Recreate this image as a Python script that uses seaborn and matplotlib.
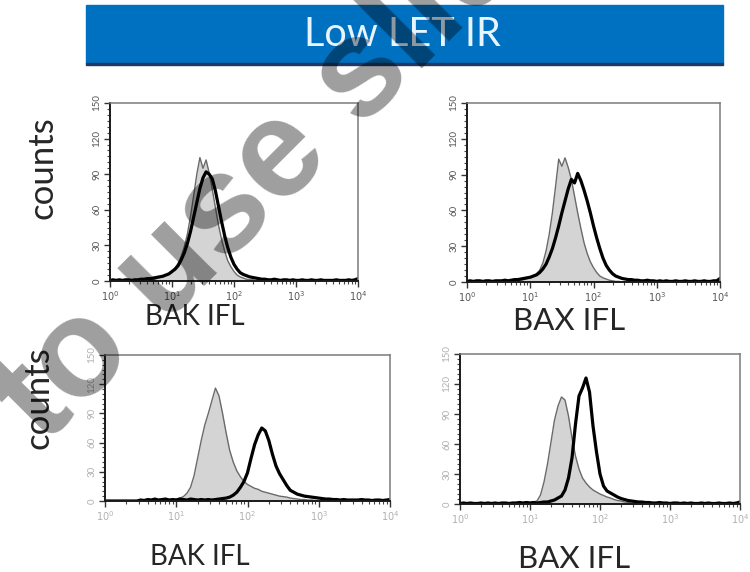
import numpy as np
import matplotlib
matplotlib.use("Agg")
from matplotlib import pyplot as plt
from matplotlib.patches import Rectangle
from matplotlib.ticker import FixedLocator, FixedFormatter, MultipleLocator, LogLocator, NullFormatter
import seaborn as sns

# histogram channels, log10 of fluorescence (0 .. 4 decades)
log_bins = np.round(np.arange(81) * 0.05, 2)

y_ticks = [0, 30, 60, 90, 120, 150]
y_tick_labels = ["0", "30", "60", "90", "120", "150"]
x_ticks = [1, 10, 100, 1000, 10000]
x_tick_labels = ["$10^0$", "$10^1$", "$10^2$", "$10^3$", "$10^4$"]

# top left: BAK, control (grey) and low LET IR (black)
bak_top_ctrl = [0, 0, 0, 0, 0, 0, 0, 0, 0, 0, 0,
                0.5, 1, 1, 1.5, 2, 3, 3.5, 5, 6, 8,
                11, 15, 21, 29, 40, 55, 72, 90, 104, 95,
                102, 91, 77, 62, 47, 35, 25, 17, 12, 8,
                5, 3.5, 2.5, 1.5, 1, 1, 0.5, 0.5, 0, 0,
                0, 0, 0, 0, 0, 0, 0, 0, 0, 0,
                0, 0, 0, 0, 0, 0, 0, 0, 0, 0,
                0, 0, 0, 0, 0, 0, 0, 0, 0, 0]
bak_top_irr = [0.5, 1, 0.5, 1, 0.5, 1, 1, 0.5, 1, 1, 1.5,
               1.5, 2, 2, 2.5, 3, 3.5, 4, 5, 6, 8,
               10, 13, 18, 24, 32, 42, 54, 66, 78, 87,
               92, 90, 86, 76, 63, 50, 38, 28, 20, 14,
               10, 7, 5.5, 4.5, 3.5, 3, 2.5, 2, 1.5, 1.5,
               1, 1, 1.5, 1, 0.5, 1, 1, 0.5, 1, 0.5,
               0.5, 1, 0.5, 0.5, 1, 0.5, 0.5, 1, 0.5, 0.5,
               0.5, 0.5, 1, 0.5, 0.5, 0.5, 1, 0.5, 1, 2]

# top right: BAX
bax_top_ctrl = [0, 0, 0, 0, 0, 0, 0, 0, 0, 0, 0, 0, 0, 0.5, 0.5, 1, 1, 1.5, 2,
                3, 4, 5, 7, 10, 16, 26, 40, 58, 80,
                103, 97, 104, 96, 86, 72, 58, 45, 33, 24,
                17, 12, 8, 5, 3.5, 2.5, 1.5, 1, 0.5, 0.5,
                0, 0, 0, 0, 0, 0, 0, 0, 0, 0, 0, 0, 0, 0, 0, 0,
                0, 0, 0, 0, 0, 0, 0, 0, 0, 0, 0, 0, 0, 0, 0, 0]
bax_top_irr = [0.5, 1, 0.5, 1, 1, 0.5, 1, 1, 0.5, 1, 1,
               1, 1.5, 1, 1.5, 2, 2, 2.5, 3, 3.5, 4,
               5, 6, 8, 11, 15, 21, 28, 37, 47, 58,
               68, 78, 86, 83, 91, 85, 77, 68, 58, 47,
               37, 28, 20, 14, 10, 7, 5, 4, 3, 2.5,
               2, 2, 1.5, 1.5, 1, 1, 1.5, 1, 1, 0.5,
               1, 0.5, 1, 0.5, 0.5, 1, 0.5, 0.5, 1, 0.5,
               0.5, 1, 0.5, 0.5, 1, 0.5, 0.5, 1, 1, 3]

# bottom left: BAK
bak_bot_ctrl = [0, 0, 0, 0, 0, 0, 0, 0, 0, 0, 0, 0, 0,
                0.5, 0.5, 1, 1, 1, 1.5, 1.5, 2,
                3, 4.5, 8, 14, 26, 44, 62, 78, 90, 103,
                116, 108, 90, 70, 52, 40, 31, 25, 20, 17,
                15, 13, 12, 10, 9, 8, 7, 6, 5, 4.5,
                4, 3, 2.5, 2, 1.5, 1.5, 1, 1, 0.5, 0.5,
                0, 0, 0, 0, 0, 0, 0, 0, 0, 0,
                0, 0, 0, 0, 0, 0, 0, 0, 0, 0]
bak_bot_irr = [0, 0, 0, 0, 0, 0, 0, 0, 0, 0,
               1, 0.5, 1.5, 1, 2, 1, 1.5, 2, 1, 1.5,
               1, 2, 1.5, 1, 2, 1.5, 1, 1.5, 1, 1.5,
               1, 1.5, 2, 2.5, 3, 4, 6, 9, 14, 20,
               29, 44, 58, 68, 75, 72, 62, 48, 36, 28,
               22, 16, 11, 9, 7, 6, 5, 4.5, 4, 3.5,
               3, 2.5, 2, 2, 1.5, 1.5, 1, 1.5, 1, 1,
               1, 1, 1.5, 1, 1, 0.5, 1, 1, 0.5, 1, 1.5]

# bottom right: BAX
bax_bot_ctrl = [0, 0, 0, 0, 0, 0, 0, 0, 0, 0, 0, 0, 0, 0,
                0.5, 0.5, 0.5, 1, 1, 1.5,
                1.5, 2, 3, 9, 22, 40, 62, 84, 98, 107,
                104, 88, 66, 48, 35, 26, 21, 17, 14, 12,
                10, 8.5, 7, 6, 4.5, 3.5, 3, 2, 1.5, 1,
                1, 0.5, 0.5, 0.5, 0, 0, 0, 0, 0, 0,
                0, 0, 0, 0, 0, 0, 0, 0, 0, 0,
                0, 0, 0, 0, 0, 0, 0, 0, 0, 0, 0]
bax_bot_irr = [0.5, 1, 0.5, 1, 0.5, 0.5, 1, 0.5, 1, 0.5,
               1, 0.5, 1, 1, 0.5, 1, 1, 1.5, 1, 1.5,
               1, 1.5, 1, 1.5, 2, 2, 3, 4, 6, 8,
               14, 26, 46, 80, 108, 116, 126, 112, 78, 52,
               30, 18, 13, 11, 9, 7, 5.5, 4.5, 3.5, 3,
               2.5, 2, 2, 1.5, 1.5, 1, 1, 1.5, 1, 1,
               0.5, 1, 1, 0.5, 1, 0.5, 1, 0.5, 0.5, 1,
               0.5, 1, 0.5, 0.5, 1, 0.5, 0.5, 1, 0.5, 1, 2]

sns.set_style("white")
plt.rcParams["font.family"] = ["Lato", "DejaVu Sans"]
plt.rcParams["mathtext.fontset"] = "dejavusans"

W, H = 750, 572
fig = plt.figure(figsize=(W / 100, H / 100), dpi=100)


def px_rect(x0, y0, x1, y1):
    # pixel box (top-left origin) -> figure fraction rect
    return [x0 / W, 1 - y1 / H, (x1 - x0) / W, (y1 - y0) / H]


fluor = 10 ** log_bins


def histogram_panel(rect, ctrl, irr, faint):
    ax = fig.add_axes(rect)
    ax.fill_between(fluor, ctrl, color="#d4d4d4", lw=0)
    sns.lineplot(x=fluor, y=ctrl, ax=ax, color="#6a6a6a", lw=1.0)
    sns.lineplot(x=fluor, y=irr, ax=ax, color="black", lw=2.3)
    ax.set_xscale("log")
    ax.set_xlim(1, 1e4)
    ax.set_ylim(0, 150)
    ax.set_xlabel("")
    ax.set_ylabel("")
    lab_color = "#b0b0b0" if faint else "#555555"
    ax.xaxis.set_major_locator(FixedLocator(x_ticks))
    ax.xaxis.set_major_formatter(FixedFormatter(x_tick_labels))
    ax.xaxis.set_minor_locator(LogLocator(base=10, subs=np.arange(2, 10)))
    ax.xaxis.set_minor_formatter(NullFormatter())
    ax.yaxis.set_major_locator(FixedLocator(y_ticks))
    ax.yaxis.set_major_formatter(FixedFormatter(y_tick_labels))
    ax.yaxis.set_minor_locator(MultipleLocator(5))
    ax.tick_params(which="major", direction="out", length=4, width=1,
                   color="#333333", labelsize=7, labelcolor=lab_color, pad=2,
                   bottom=True, left=True)
    ax.tick_params(which="minor", direction="out", length=2.5, width=0.8,
                   color="#444444", bottom=True, left=True)
    for lab in ax.get_yticklabels():
        lab.set_rotation(90)
        lab.set_va("center")
    for side in ["left", "bottom"]:
        ax.spines[side].set_color("#1a1a1a")
        ax.spines[side].set_linewidth(1.4)
    for side in ["top", "right"]:
        ax.spines[side].set_color("#7a7a7a")
        ax.spines[side].set_linewidth(1.1)
    return ax


histogram_panel(px_rect(110, 103, 358, 281), bak_top_ctrl, bak_top_irr, False)
histogram_panel(px_rect(467, 103, 720, 282), bax_top_ctrl, bax_top_irr, False)
histogram_panel(px_rect(105, 355, 390, 501), bak_bot_ctrl, bak_bot_irr, True)
histogram_panel(px_rect(460, 354, 740, 504), bax_bot_ctrl, bax_bot_irr, True)

# title banner
fig.patches.append(Rectangle((86 / W, 1 - 63 / H), (723 - 86) / W, 58 / H,
                             transform=fig.transFigure, color="#0070c0", zorder=1))
fig.patches.append(Rectangle((86 / W, 1 - 65 / H), (723 - 86) / W, 2.5 / H,
                             transform=fig.transFigure, color="#1f3864", zorder=1))
fig.text(402 / W, 1 - 35 / H, "Low LET IR", color="#e8f4ff", fontsize=28.5,
         ha="center", va="center")

# axis captions
fig.text(43 / W, 1 - 168 / H, "counts", rotation=90, fontsize=25, ha="center", va="center")
fig.text(38 / W, 1 - 398 / H, "counts", rotation=90, fontsize=25, ha="center", va="center")
fig.text(195 / W, 1 - 317 / H, "BAK IFL", fontsize=20, ha="center", va="center")
fig.text(569 / W, 1 - 321 / H, "BAX IFL", fontsize=22.5, ha="center", va="center")
fig.text(200 / W, 1 - 557 / H, "BAK IFL", fontsize=20, ha="center", va="center")
fig.text(574 / W, 1 - 559 / H, "BAX IFL", fontsize=22.5, ha="center", va="center")

# watermark across the slide
fig.text(44 / W, 1 - 446 / H, "to use slide", rotation=45, rotation_mode="anchor",
         ha="left", va="baseline", fontsize=100, fontweight="bold",
         family=["Liberation Sans", "DejaVu Sans"], color="black", alpha=0.38, zorder=50)

fig.savefig("out.png", dpi=100)
